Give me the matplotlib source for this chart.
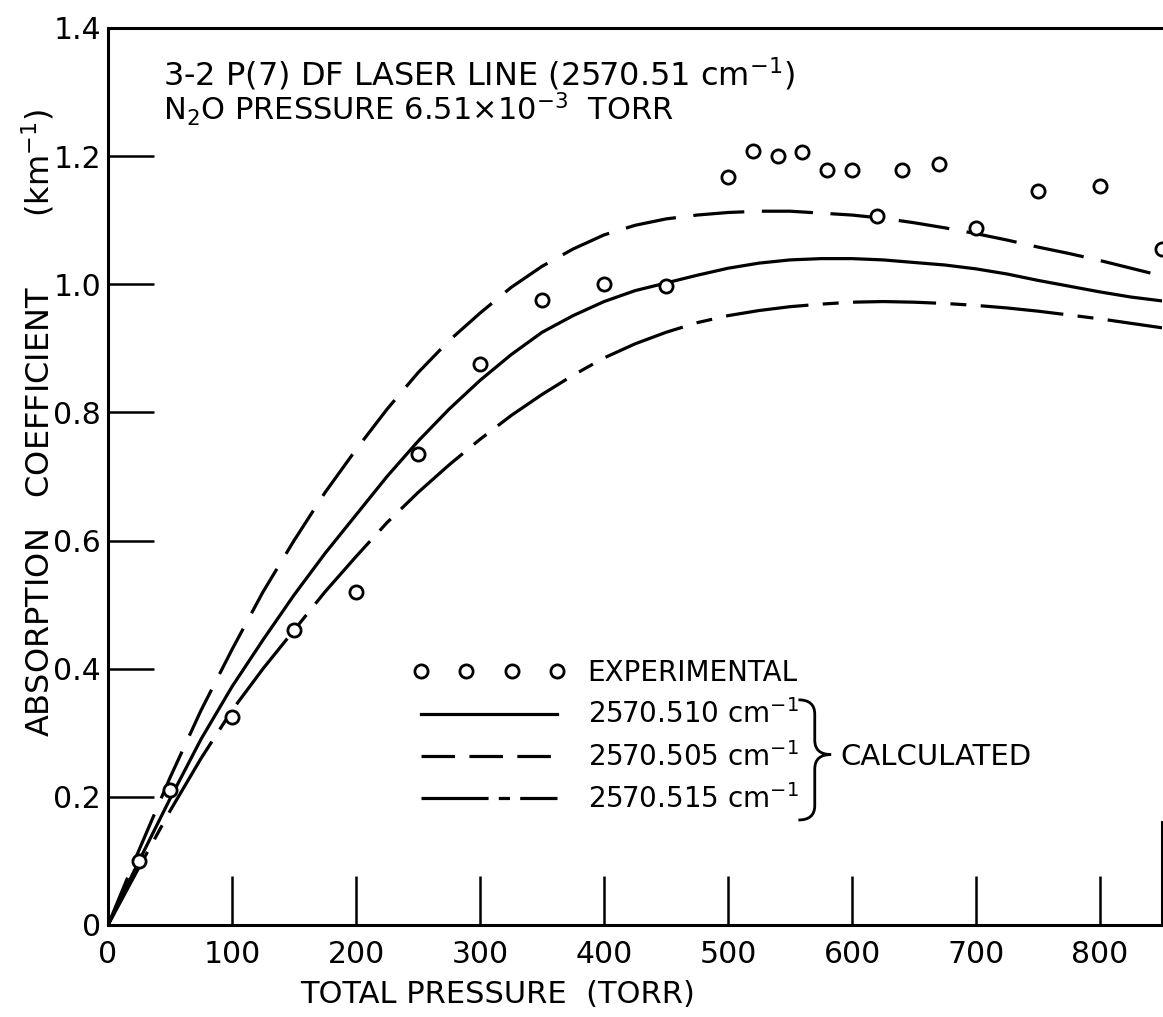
import matplotlib
matplotlib.use('Agg')
import matplotlib.pyplot as plt
from matplotlib.lines import Line2D
from matplotlib.path import Path
from matplotlib.patches import PathPatch

plt.rcParams['font.family'] = ['DejaVu Sans']
plt.rcParams['mathtext.default'] = 'regular'

# total pressure (torr) for the calculated curves
pressure = [0, 25, 50, 75, 100, 125, 150, 175, 200, 225, 250, 275, 300, 325, 350,
            375, 400, 425, 450, 475, 500, 525, 550, 575, 600, 625, 650, 675, 700,
            725, 750, 775, 800, 825, 850]

# calculated absorption coefficient (km^-1)
k_510 = [0, 0.100, 0.197, 0.290, 0.372, 0.445, 0.515, 0.580, 0.640, 0.700, 0.755,
         0.805, 0.850, 0.890, 0.925, 0.951, 0.973, 0.990, 1.002, 1.014, 1.025,
         1.033, 1.038, 1.040, 1.040, 1.038, 1.034, 1.030, 1.024, 1.016, 1.006,
         0.997, 0.988, 0.980, 0.974]
k_505 = [0, 0.117, 0.230, 0.335, 0.430, 0.520, 0.600, 0.675, 0.742, 0.805, 0.862,
         0.912, 0.955, 0.995, 1.028, 1.055, 1.077, 1.092, 1.102, 1.108, 1.112,
         1.114, 1.114, 1.111, 1.108, 1.103, 1.096, 1.088, 1.079, 1.069, 1.058,
         1.048, 1.037, 1.025, 1.013]
k_515 = [0, 0.090, 0.178, 0.260, 0.335, 0.400, 0.460, 0.520, 0.575, 0.628, 0.675,
         0.718, 0.758, 0.795, 0.828, 0.858, 0.885, 0.907, 0.925, 0.940, 0.951,
         0.959, 0.965, 0.969, 0.972, 0.973, 0.972, 0.970, 0.967, 0.963, 0.958,
         0.952, 0.946, 0.939, 0.932]

# experimental points
exp_p = [25, 50, 100, 150, 200, 250, 300, 350, 400, 450, 500, 520, 540, 560,
         580, 600, 620, 640, 670, 700, 750, 800, 850]
exp_k = [0.10, 0.21, 0.325, 0.46, 0.52, 0.735, 0.875, 0.975, 1.0, 0.998, 1.167,
         1.208, 1.20, 1.207, 1.178, 1.178, 1.107, 1.178, 1.187, 1.088, 1.146,
         1.153, 1.055]

x_ticks = [0, 100, 200, 300, 400, 500, 600, 700, 800]
y_ticks = [0, 0.2, 0.4, 0.6, 0.8, 1.0, 1.2, 1.4]
y_tick_labels = ['0', '0.2', '0.4', '0.6', '0.8', '1.0', '1.2', '1.4']

fig = plt.figure(figsize=(11.63, 10.17), dpi=100)
ax = fig.add_axes([0.0929, 0.0905, 0.9063, 0.882])

lw = 2.3
l510, = ax.plot(pressure, k_510, color='black', lw=lw)
l505, = ax.plot(pressure, k_505, color='black', lw=lw, ls=(0, (16, 5.5)))
l515, = ax.plot(pressure, k_515, color='black', lw=lw, ls=(0, (26, 4.5, 5, 4.5)))
pts, = ax.plot(exp_p, exp_k, ls='none', marker='o', ms=9.5, mfc='white',
               mec='black', mew=2, zorder=5)

ax.set_xlim(0, 850)
ax.set_ylim(0, 1.4)
ax.set_xticks(x_ticks)
ax.set_yticks(y_ticks)
ax.set_yticklabels(y_tick_labels)
ax.tick_params(axis='x', direction='in', length=35, width=1.8, pad=11, labelsize=21.5)
ax.tick_params(axis='y', direction='in', length=33, width=1.8, pad=5, labelsize=21.5)

for s in ['left', 'bottom', 'top', 'right']:
    ax.spines[s].set_linewidth(2.2)
ax.spines['right'].set_bounds(0, 0.16)

ax.set_xlabel('TOTAL PRESSURE  (TORR)', fontsize=22, va='center')
ax.xaxis.set_label_coords(0.37, -0.077)
ax.set_ylabel('ABSORPTION   COEFFICIENT       (km$^{-1}$)', fontsize=23, va='center')
ax.yaxis.set_label_coords(-0.066, 0.56)

# header text
ax.text(0.052, 0.936, '3-2 P(7) DF LASER LINE (2570.51 cm$^{-1}$)',
        transform=ax.transAxes, fontsize=23, va='baseline')
ax.text(0.052, 0.897, 'N$_2$O PRESSURE 6.51$\\times$10$^{-3}$  TORR',
        transform=ax.transAxes, fontsize=22, va='baseline')

# legend (the key uses shorter dashes than the curves, as in the original)
key_510 = Line2D([], [], color='black', lw=lw)
key_505 = Line2D([], [], color='black', lw=lw, ls=(0, (10.5, 4.5)))
key_515 = Line2D([], [], color='black', lw=lw, ls=(0, (21, 3.2, 3.5, 3.2)))
handles = [pts, key_510, key_505, key_515]
labels = ['EXPERIMENTAL', '2570.510 cm$^{-1}$', '2570.505 cm$^{-1}$',
          '2570.515 cm$^{-1}$']
ax.legend(handles, labels, loc='upper left', bbox_to_anchor=(0.289, 0.2966),
          frameon=False, fontsize=20, numpoints=4, handlelength=5.5,
          handletextpad=0.8, labelspacing=0.45, borderpad=0, borderaxespad=0)

# brace grouping the calculated curves
x0, w = 0.655, 0.0155
yt, ym, yb = 0.251, 0.190, 0.117
r = 0.016
verts = [(x0, yt), (x0 + w, yt), (x0 + w, yt - r), (x0 + w, ym + r),
         (x0 + w, ym), (x0 + 2 * w, ym),
         (x0 + w, ym), (x0 + w, ym - r), (x0 + w, yb + r),
         (x0 + w, yb), (x0, yb)]
codes = [Path.MOVETO, Path.CURVE3, Path.CURVE3, Path.LINETO,
         Path.CURVE3, Path.CURVE3,
         Path.CURVE3, Path.CURVE3, Path.LINETO,
         Path.CURVE3, Path.CURVE3]
ax.add_patch(PathPatch(Path(verts, codes), transform=ax.transAxes,
                       fill=False, lw=2, clip_on=False))
ax.text(0.6945, 0.187, 'CALCULATED', transform=ax.transAxes, fontsize=21,
        va='center')

fig.savefig('out.png', dpi=100)
